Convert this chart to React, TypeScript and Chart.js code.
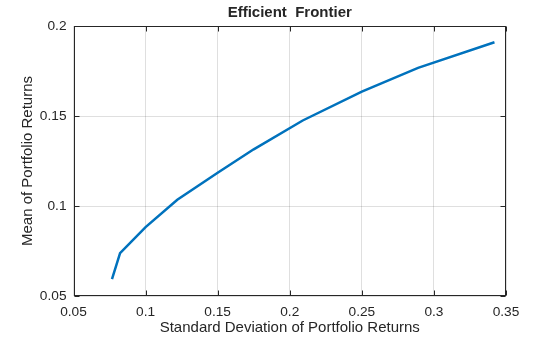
import React, { useEffect, useRef } from "react";
import { Chart, registerables } from "chart.js";

Chart.register(...registerables);

const stdDev = [0.0767, 0.0823, 0.1, 0.122, 0.15, 0.175, 0.209, 0.25, 0.289, 0.342];
const meanRet = [0.0594, 0.0738, 0.0883, 0.1035, 0.1185, 0.1315, 0.1475, 0.1635, 0.1767, 0.191];
const xTicks = [0.05, 0.1, 0.15, 0.2, 0.25, 0.3, 0.35];
const yTicks = [0.05, 0.1, 0.15, 0.2];
const titleText = "Efficient  Frontier";
const xLabel = "Standard Deviation of Portfolio Returns";
const yLabel = "Mean of Portfolio Returns";

const FONT = "'Liberation Sans', Arial, Helvetica, sans-serif";
const TXT = "#262626";

const decor = {
  id: "decor",
  afterDraw(chart: any) {
    const { ctx, chartArea } = chart;
    const { left, right, top, bottom } = chartArea;
    const xs = chart.scales.x;
    const ys = chart.scales.y;
    ctx.save();
    ctx.strokeStyle = TXT;
    ctx.lineWidth = 1;
    const L = Math.round(left) + 0.5;
    const R = Math.round(right) - 0.5;
    const T = Math.round(top) + 0.5;
    const B = Math.round(bottom) - 0.5;
    ctx.strokeRect(L, T, R - L, B - T);
    const tl = 5;
    ctx.beginPath();
    xTicks.forEach((v) => {
      const px = Math.round(xs.getPixelForValue(v)) + 0.5;
      ctx.moveTo(px, B);
      ctx.lineTo(px, B - tl);
      ctx.moveTo(px, T);
      ctx.lineTo(px, T + tl);
    });
    yTicks.forEach((v) => {
      const py = Math.round(ys.getPixelForValue(v)) + 0.5;
      ctx.moveTo(L, py);
      ctx.lineTo(L + tl, py);
      ctx.moveTo(R, py);
      ctx.lineTo(R - tl, py);
    });
    ctx.stroke();

    ctx.fillStyle = TXT;
    ctx.textAlign = "center";
    ctx.textBaseline = "middle";
    const cx = (left + right) / 2;
    ctx.font = `bold 15px ${FONT}`;
    ctx.fillText(titleText, cx, 12.5);
    ctx.font = `15px ${FONT}`;
    ctx.fillText(xLabel, cx, 328);
    ctx.translate(28, (top + bottom) / 2);
    ctx.rotate(-Math.PI / 2);
    ctx.fillText(yLabel, 0, 0);
    ctx.restore();
  },
};

const fmt = (v: any) => String(Number(Number(v).toFixed(4)));

export default function App() {
  const ref = useRef<HTMLCanvasElement>(null);
  useEffect(() => {
    document.body.style.margin = "0";
    const chart = new Chart(ref.current!, {
      type: "scatter",
      data: {
        datasets: [
          {
            data: stdDev.map((x, i) => ({ x, y: meanRet[i] })),
            showLine: true,
            borderColor: "#0072BD",
            backgroundColor: "#0072BD",
            borderWidth: 2.5,
            pointRadius: 0,
            tension: 0,
          },
        ],
      },
      options: {
        animation: false,
        responsive: false,
        layout: { padding: { top: 26, right: 54, left: 0, bottom: 0 } },
        plugins: { legend: { display: false }, tooltip: { enabled: false }, title: { display: false } },
        scales: {
          x: {
            type: "linear",
            min: 0.05,
            max: 0.35,
            afterBuildTicks: (s: any) => { s.ticks = xTicks.map((value) => ({ value })); },
            afterFit: (s: any) => { s.height = 41; },
            grid: { color: "rgba(38,38,38,0.15)", drawTicks: false },
            border: { display: false },
            ticks: { padding: 8, color: TXT, font: { family: FONT, size: 13.7 }, callback: fmt, maxRotation: 0 },
          },
          y: {
            type: "linear",
            min: 0.05,
            max: 0.2,
            afterBuildTicks: (s: any) => { s.ticks = yTicks.map((value) => ({ value })); },
            afterFit: (s: any) => { s.width = 73.5; },
            grid: { color: "rgba(38,38,38,0.15)", drawTicks: false },
            border: { display: false },
            ticks: { padding: 7, color: TXT, font: { family: FONT, size: 13.7 }, callback: fmt },
          },
        },
      },
      plugins: [decor],
    });
    return () => chart.destroy();
  }, []);
  return (
    <div style={{ position: "absolute", left: 0, top: 0, width: 560, height: 337, background: "#fff" }}>
      <canvas ref={ref} width={560} height={337} />
    </div>
  );
}
